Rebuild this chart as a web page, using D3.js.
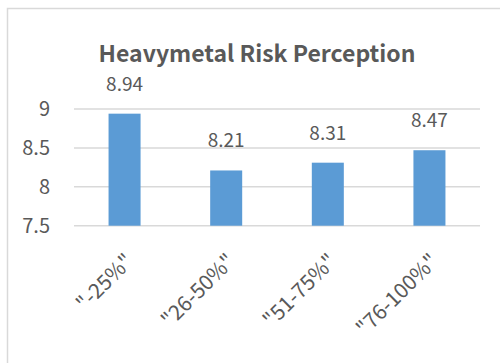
<!DOCTYPE html>
<html>
<head>
<meta charset="utf-8">
<script src="https://cdn.jsdelivr.net/npm/d3@7"></script>
<style>
  html, body { margin: 0; padding: 0; background: #fff; }
  svg { display: block; }
  text { font-family: "Noto Sans CJK KR", "Open Sans", sans-serif; fill: #595959; }
</style>
</head>
<body>
<svg id="chart" width="500" height="363"></svg>
<script>
// Chart data
const categories = ['"-25%"', '"26-50%"', '"51-75%"', '"76-100%"'];
const values = [8.94, 8.21, 8.31, 8.47];
const yTicks = [7.5, 8, 8.5, 9];
const title = "Heavymetal Risk Perception";

const FONT = '"Noto Sans CJK KR", "Open Sans", sans-serif';
const LABEL_SIZE = 19;

const svg = d3.select("#chart");

// Chart area frame
svg.append("rect")
  .attr("x", 7.5).attr("y", 8.5)
  .attr("width", 600).attr("height", 600)
  .attr("fill", "#fff")
  .attr("stroke", "#d9d9d9").attr("stroke-width", 1.5);

const plot = { left: 74, right: 480, top: 109, bottom: 225.7 };

const x = d3.scaleBand()
  .domain(categories)
  .range([plot.left, plot.right])
  .paddingInner(0.685)
  .paddingOuter(0.34);

const y = d3.scaleLinear()
  .domain([7.5, 9])
  .range([plot.bottom, plot.top]);

// Gridlines
svg.append("g")
  .selectAll("line")
  .data(yTicks)
  .join("line")
  .attr("x1", plot.left).attr("x2", plot.right)
  .attr("y1", d => y(d)).attr("y2", d => y(d))
  .attr("stroke", "#d9d9d9").attr("stroke-width", 1.5);

// Y axis labels
const yAxis = d3.axisLeft(y).tickValues(yTicks).tickSize(0).tickPadding(0)
  .tickFormat(d => String(d));
svg.append("g")
  .attr("transform", `translate(${plot.left - 24},0)`)
  .call(yAxis)
  .call(g => g.select(".domain").remove())
  .call(g => g.selectAll("text")
    .attr("font-size", 20)
    .attr("fill", "#595959")
    .style("font-family", FONT));

// Bars
svg.append("g")
  .selectAll("rect")
  .data(values)
  .join("rect")
  .attr("x", (d, i) => x(categories[i]))
  .attr("width", x.bandwidth())
  .attr("y", d => y(d))
  .attr("height", d => y(7.5) - y(d))
  .attr("fill", "#5b9bd5");

// Value labels
svg.append("g")
  .selectAll("text")
  .data(values)
  .join("text")
  .attr("x", (d, i) => x(categories[i]) + x.bandwidth() / 2)
  .attr("y", d => y(d) - 23)
  .attr("text-anchor", "middle")
  .attr("font-size", LABEL_SIZE)
  .text(d => d.toFixed(2));

// Category labels, rotated
const xAxis = d3.axisBottom(x).tickSize(0).tickPadding(0);
svg.append("g")
  .attr("transform", `translate(0,${plot.bottom})`)
  .call(xAxis)
  .call(g => g.select(".domain").remove())
  .call(g => g.selectAll("text")
    .attr("font-size", 21)
    .attr("fill", "#595959")
    .style("font-family", FONT)
    .attr("text-anchor", "end")
    .attr("dy", null)
    .attr("y", 0)
    .attr("transform", "translate(10,37) rotate(-45)"));

// Title
svg.append("text")
  .attr("x", 257).attr("y", 62)
  .attr("text-anchor", "middle")
  .attr("font-size", 23)
  .attr("font-weight", "bold")
  .text(title);
</script>
</body>
</html>
